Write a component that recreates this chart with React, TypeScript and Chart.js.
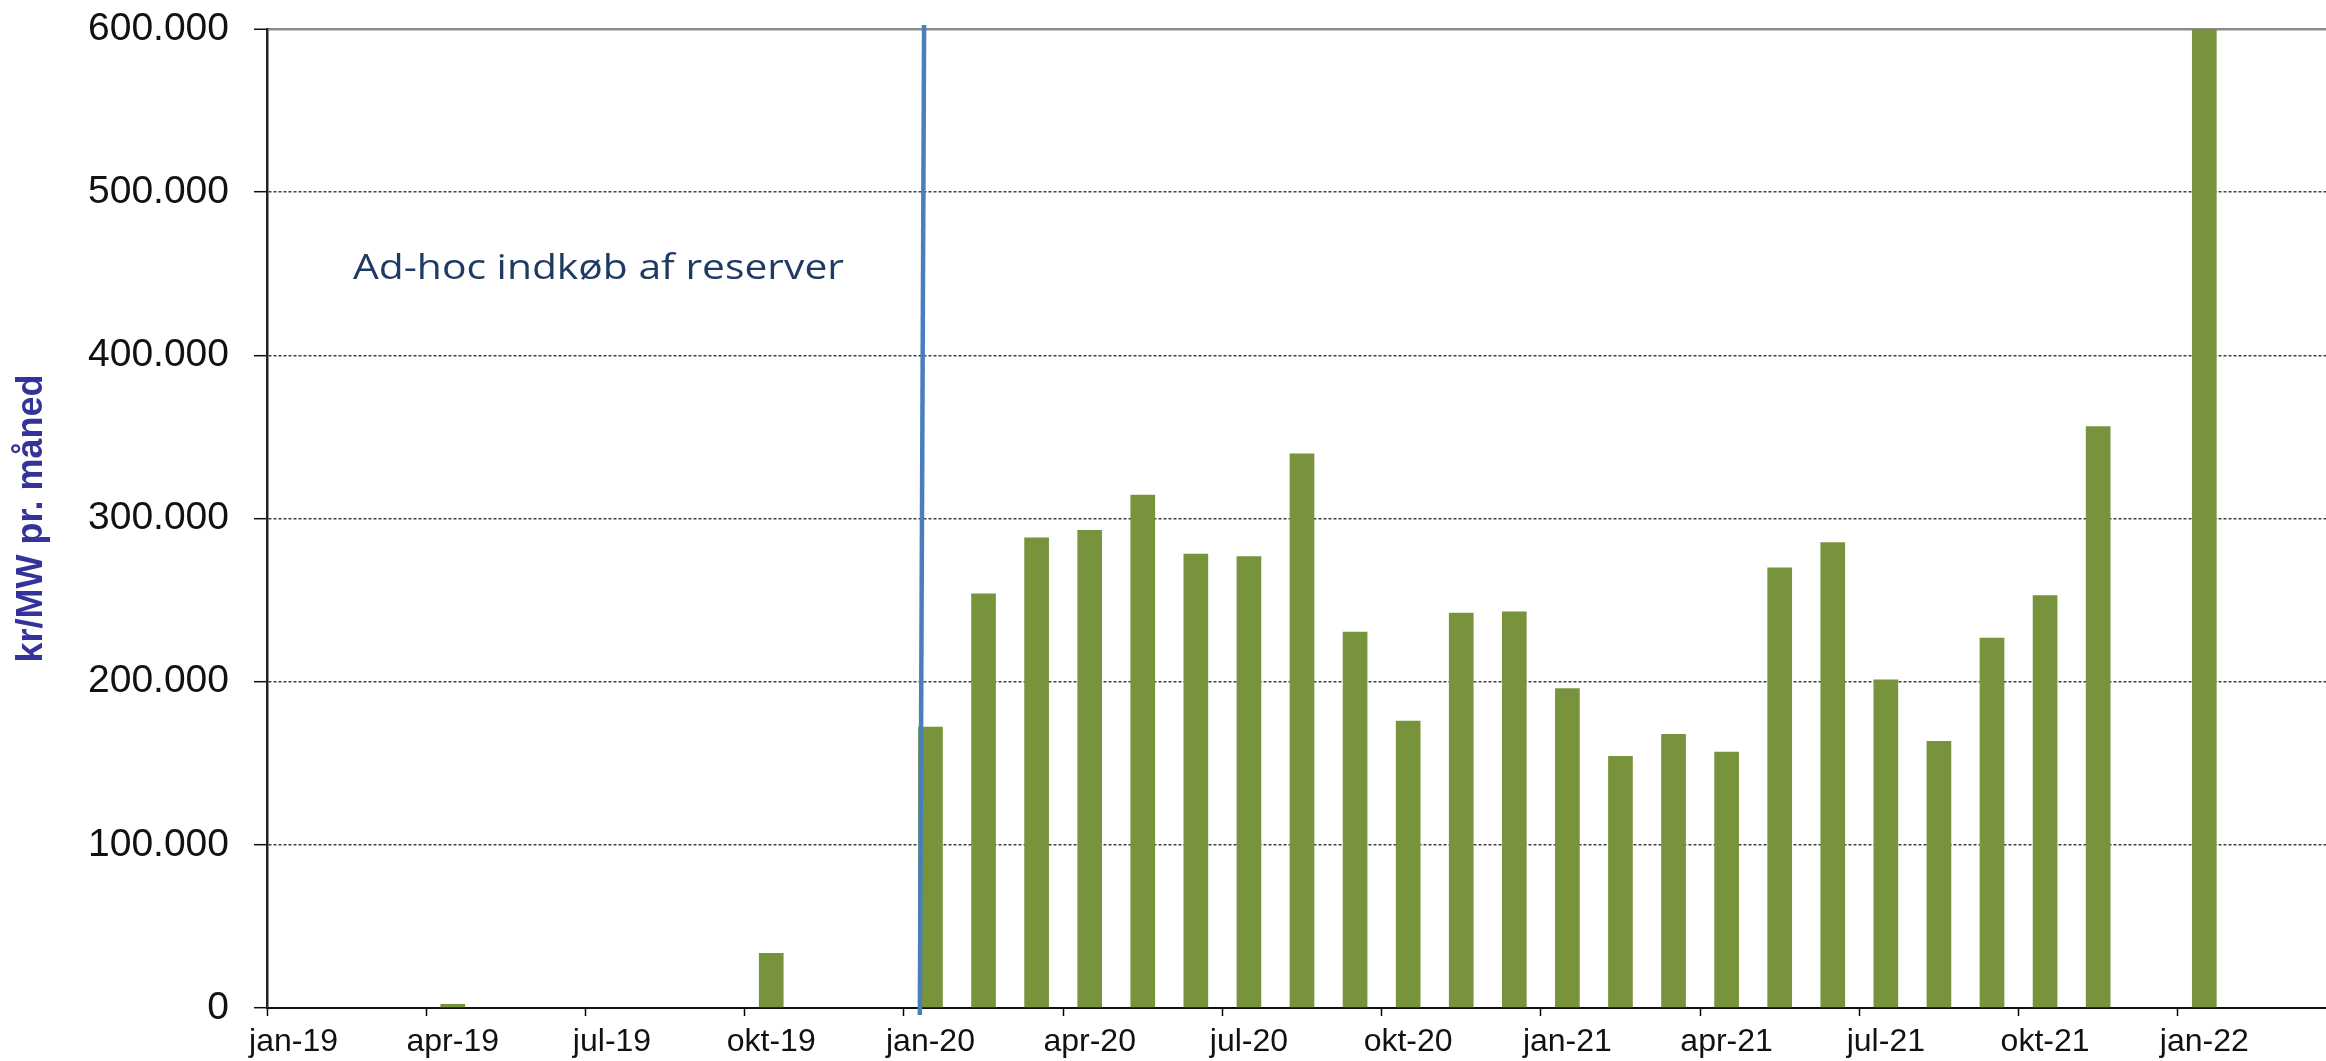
import React, { useEffect, useRef } from "react";
import { Chart, registerables } from "chart.js";

Chart.register(...registerables);

// ---- Data ----
const months: string[] = [
  "jan-19", "feb-19", "mar-19", "apr-19", "maj-19", "jun-19", "jul-19", "aug-19", "sep-19", "okt-19", "nov-19", "dec-19",
  "jan-20", "feb-20", "mar-20", "apr-20", "maj-20", "jun-20", "jul-20", "aug-20", "sep-20", "okt-20", "nov-20", "dec-20",
  "jan-21", "feb-21", "mar-21", "apr-21", "maj-21", "jun-21", "jul-21", "aug-21", "sep-21", "okt-21", "nov-21", "dec-21",
  "jan-22", "feb-22", "mar-22",
];

const values2019: (number | null)[] = [null, null, null, 2500, null, null, null, null, null, 33700, null, null];
const values2020: (number | null)[] = [172400, 254100, 288400, 292900, 314500, 278400, 276800, 339900, 230600, 176000, 242200, 243000];
const values2021: (number | null)[] = [196000, 154400, 168000, 157000, 270000, 285500, 201400, 163600, 226900, 252900, 356600, null];
const values2022: (number | null)[] = [600000, null, null];

const yTicks: number[] = [0, 100000, 200000, 300000, 400000, 500000, 600000];

const yAxisTitle = "kr/MW pr. måned";
const noteText = "Ad-hoc indkøb af reserver";

// annotation anchors (in scale units)
const markerIndexTop = 11.88;
const markerIndexBottom = 11.80;
const noteIndex = 1.12;
const noteValue = 446700;

const BAR_COLOR = "#77933C";
const MARKER_COLOR = "#4A7EBB";
const NOTE_COLOR = "#1F3B63";
const TITLE_COLOR = "#333399";

const fmt = (v: number) => String(v).replace(/\B(?=(\d{3})+(?!\d))/g, ".");

const annotationPlugin = {
  id: "adhocAnnotation",
  afterDatasetsDraw(chart: any) {
    const { ctx, chartArea, scales } = chart;
    const x = scales.x;
    const y = scales.y;
    ctx.save();
    ctx.strokeStyle = MARKER_COLOR;
    ctx.lineWidth = 4.5;
    ctx.lineCap = "butt";
    ctx.beginPath();
    ctx.moveTo(x.getPixelForValue(markerIndexTop), chartArea.top - 4);
    ctx.lineTo(x.getPixelForValue(markerIndexBottom), chartArea.bottom + 7);
    ctx.stroke();

    ctx.translate(x.getPixelForValue(noteIndex), y.getPixelForValue(noteValue));
    ctx.scale(1.2, 1);
    ctx.font = '34px "Open Sans"';
    ctx.fillStyle = NOTE_COLOR;
    ctx.textAlign = "left";
    ctx.textBaseline = "alphabetic";
    ctx.fillText(noteText, 0, 0);
    ctx.restore();
  },
};

export default function App() {
  const canvasRef = useRef<HTMLCanvasElement | null>(null);

  useEffect(() => {
    if (!canvasRef.current) return;
    const data = [...values2019, ...values2020, ...values2021, ...values2022];
    const chart = new Chart(canvasRef.current, {
      type: "bar",
      data: {
        labels: months,
        datasets: [
          {
            data,
            backgroundColor: BAR_COLOR,
            borderWidth: 0,
            categoryPercentage: 1,
            barPercentage: 0.465,
          },
        ],
      },
      plugins: [annotationPlugin],
      options: {
        responsive: false,
        animation: false,
        layout: { padding: { top: 29, right: 3, left: 0, bottom: 0 } },
        plugins: {
          legend: { display: false },
          tooltip: { enabled: false },
        },
        scales: {
          x: {
            type: "category",
            offset: true,
            grid: {
              offset: true,
              drawOnChartArea: false,
              drawTicks: true,
              tickLength: 8,
              tickWidth: 1.5,
              tickColor: (c: any) => (c.index % 3 === 0 ? "#000" : "rgba(0,0,0,0)"),
            },
            border: { display: true, color: "#111", width: 2 },
            ticks: {
              autoSkip: false,
              maxRotation: 0,
              minRotation: 0,
              padding: 7,
              color: "#111",
              font: { family: "'Liberation Sans', Arial, sans-serif", size: 32 },
              callback: (_v: any, i: number) => (i % 3 === 0 ? months[i] : ""),
            },
            afterFit: (scale: any) => {
              scale.height = 53;
              scale.paddingLeft = 0;
              scale.paddingRight = 0;
            },
          },
          y: {
            min: 0,
            max: 600000,
            afterBuildTicks: (scale: any) => {
              scale.ticks = yTicks.map((v) => ({ value: v }));
            },
            grid: {
              color: (c: any) => {
                const v = c.tick ? c.tick.value : null;
                if (v === 600000) return "#8c8c8c";
                if (v === 0) return "#111";
                return "#404040";
              },
              lineWidth: (c: any) => (c.tick && c.tick.value === 600000 ? 2.5 : 1.4),
              tickColor: "#111",
              tickWidth: 1.5,
              tickLength: 13,
              tickBorderDash: [],
            },
            border: {
              display: true,
              color: "#222",
              width: 2.5,
              dash: (c: any) => {
                const v = c.tick ? c.tick.value : null;
                if (v === null || v === undefined || v === 600000 || v === 0) return [];
                return [3, 2];
              },
            },
            ticks: {
              padding: 25,
              color: "#111",
              font: { family: "'Liberation Sans', Arial, sans-serif", size: 39 },
              callback: (v: any) => fmt(Number(v)),
            },
            title: {
              display: true,
              text: yAxisTitle,
              color: TITLE_COLOR,
              font: { family: "'Liberation Sans', Arial, sans-serif", size: 36, weight: "bold", lineHeight: 1.2 },
              padding: { top: 10, bottom: 0 },
            },
            afterFit: (scale: any) => {
              scale.width = 267;
              scale.paddingTop = 0;
              scale.paddingBottom = 0;
            },
          },
        },
      } as any,
    });
    return () => chart.destroy();
  }, []);

  return (
    <div
      style={{
        position: "fixed",
        left: 0,
        top: 0,
        width: 2326,
        height: 1061,
        overflow: "hidden",
        background: "#fff",
      }}
    >
      <canvas ref={canvasRef} width={2340} height={1061} style={{ display: "block" }} />
    </div>
  );
}
